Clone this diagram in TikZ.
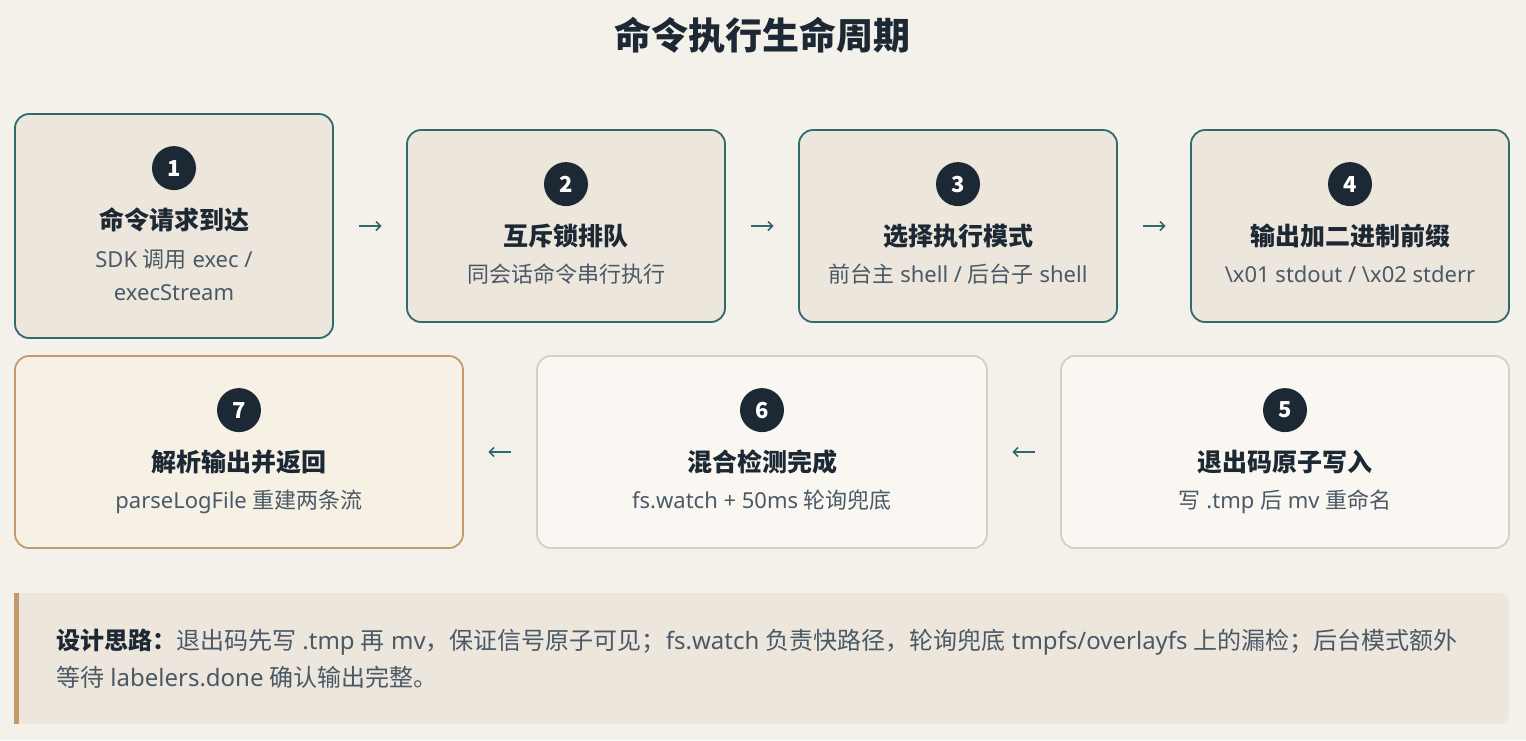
\documentclass[tikz,border=0pt]{standalone}
\usepackage{fontspec}
\setmainfont{Noto Sans CJK SC}
\newfontfamily\latfont{Noto Sans}
\newcommand\lat[1]{{\latfont #1}}
\usetikzlibrary{arrows.meta,calc}
\definecolor{bg}{HTML}{F4F1EB}
\definecolor{boxfill}{HTML}{EDE6DC}
\definecolor{tealline}{HTML}{2F6B6B}
\definecolor{warmfill}{HTML}{F7F0E5}
\definecolor{tanline}{HTML}{C49A6C}
\definecolor{lightfill}{HTML}{FAF7F2}
\definecolor{greyline}{HTML}{D6CFC4}
\definecolor{navy}{HTML}{1C2833}
\definecolor{ink}{HTML}{1C2833}
\definecolor{subgray}{HTML}{4A5966}
\definecolor{notefill}{HTML}{EDE6DC}
\begin{document}
\begin{tikzpicture}[x=1pt,y=-1pt,
  stepbox/.style={rounded corners=14pt, line width=1.8pt, inner sep=0pt},
  activebox/.style={stepbox, draw=tealline, fill=boxfill},
  donebox/.style={stepbox, draw=tanline, fill=warmfill},
  pendbox/.style={stepbox, draw=greyline, fill=lightfill},
  numdot/.style={circle, fill=navy, minimum size=44pt, inner sep=0pt, text=white,
    font=\fontsize{22}{22}\selectfont\bfseries},
  steptitle/.style={inner sep=0pt, text height=22pt, text depth=3pt,
    font=\fontsize{25}{28}\selectfont\bfseries, text=ink},
  stepsub/.style={inner sep=0pt, text height=19.4pt, text depth=2.6pt,
    font=\fontsize{22}{25}\selectfont, text=subgray},
  flow/.style={-{Straight Barb[length=4.5pt,width=9pt]}, line width=1.5pt, draw=tealline},
]
\useasboundingbox[fill=bg] (0,0) rectangle (1526,740);

% title
\node[inner sep=0pt, text height=32.6pt, text depth=4.4pt,
  font=\fontsize{37}{40}\selectfont\bfseries, text=ink] (title) at (762,35) {命令执行生命周期};

% row 1
\node[activebox, minimum width=318pt, minimum height=224pt] (b1) at (174,226) {};
\node[activebox, minimum width=318pt, minimum height=192pt] (b2) at (566,226) {};
\node[activebox, minimum width=318pt, minimum height=192pt] (b3) at (958,226) {};
\node[activebox, minimum width=318pt, minimum height=192pt] (b4) at (1350,226) {};
% row 2
\node[donebox, minimum width=448pt, minimum height=192pt] (b7) at (239,452) {};
\node[pendbox, minimum width=450pt, minimum height=192pt] (b6) at (762,452) {};
\node[pendbox, minimum width=448pt, minimum height=192pt] (b5) at (1285,452) {};

% box 1
\node[numdot] (n1) at ($(b1.north)+(0,55)$) {1};
\node[steptitle] (t1) at ($(b1.north)+(0,107)$) {命令请求到达};
\node[stepsub] (s1a) at ($(b1.north)+(0,146)$) {\lat{SDK }调用\lat{ exec /}};
\node[stepsub] (s1b) at ($(b1.north)+(0,179)$) {\lat{execStream}};
% box 2
\node[numdot] (n2) at ($(b2.north)+(0,55)$) {2};
\node[steptitle] (t2) at ($(b2.north)+(0,107)$) {互斥锁排队};
\node[stepsub] (s2) at ($(b2.north)+(0,145)$) {同会话命令串行执行};
% box 3
\node[numdot] (n3) at ($(b3.north)+(0,55)$) {3};
\node[steptitle] (t3) at ($(b3.north)+(0,107)$) {选择执行模式};
\node[stepsub] (s3) at ($(b3.north)+(0,145)$) {前台主\lat{ shell / }后台子\lat{ shell}};
% box 4
\node[numdot] (n4) at ($(b4.north)+(0,55)$) {4};
\node[steptitle] (t4) at ($(b4.north)+(0,107)$) {输出加二进制前缀};
\node[stepsub] (s4) at ($(b4.north)+(0,145)$) {\lat{\textbackslash x01 stdout / \textbackslash x02 stderr}};
% box 5
\node[numdot] (n5) at ($(b5.north)+(0,55)$) {5};
\node[steptitle] (t5) at ($(b5.north)+(0,107)$) {退出码原子写入};
\node[stepsub] (s5) at ($(b5.north)+(0,145)$) {写\lat{ .tmp }后\lat{ mv }重命名};
% box 6
\node[numdot] (n6) at ($(b6.north)+(0,55)$) {6};
\node[steptitle] (t6) at ($(b6.north)+(0,107)$) {混合检测完成};
\node[stepsub] (s6) at ($(b6.north)+(0,145)$) {\lat{fs.watch + 50ms }轮询兜底};
% box 7
\node[numdot] (n7) at ($(b7.north)+(0,55)$) {7};
\node[steptitle] (t7) at ($(b7.north)+(0,107)$) {解析输出并返回};
\node[stepsub] (s7) at ($(b7.north)+(0,145)$) {\lat{parseLogFile }重建两条流};

% connectors
\draw[flow] ($(b1.east)!0.35!(b2.west)$) -- ($(b1.east)!0.66!(b2.west)$);
\draw[flow] ($(b2.east)!0.35!(b3.west)$) -- ($(b2.east)!0.66!(b3.west)$);
\draw[flow] ($(b3.east)!0.35!(b4.west)$) -- ($(b3.east)!0.66!(b4.west)$);
\draw[flow] ($(b5.west)!0.35!(b6.east)$) -- ($(b5.west)!0.66!(b6.east)$);
\draw[flow] ($(b6.west)!0.35!(b7.east)$) -- ($(b6.west)!0.66!(b7.east)$);

% note
\fill[notefill, rounded corners=10pt] (14,593) rectangle (1509,724);
\fill[notefill] (14,593) rectangle (30,724);
\fill[tanline] (14,593) rectangle (19,724);
\node[anchor=north west, inner sep=0pt, align=left, text=subgray,
  font=\fontsize{24}{37}\selectfont] (note) at (56,628.5)
  {\textcolor{ink}{\bfseries 设计思路：}退出码先写\lat{ .tmp }再\lat{ mv}，保证信号原子可见；\lat{fs.watch }负责快路径，轮询兜底\lat{ tmpfs/overlayfs }上的漏检；后台模式额外\\
   等待\lat{ labelers.done }确认输出完整。};
\end{tikzpicture}
\end{document}
